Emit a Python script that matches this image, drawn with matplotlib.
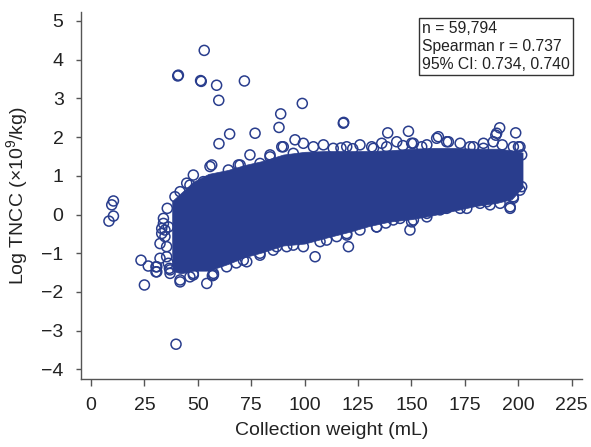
import numpy as np
import matplotlib.pyplot as plt

plt.rcParams['font.family'] = ['Liberation Sans', 'DejaVu Sans']
plt.rcParams['mathtext.fontset'] = 'custom'
plt.rcParams['mathtext.rm'] = 'Liberation Sans'
plt.rcParams['mathtext.it'] = 'Liberation Sans:italic'

NAVY = '#293d8d'

# ---------------------------------------------------------
# dense core of the cloud (outline read as lower / upper band)
# ---------------------------------------------------------
cloud_x = [38, 42, 48, 55, 64, 72, 80, 90, 100, 110, 120, 130, 140, 150, 160, 170, 180, 190, 197, 202]
cloud_upper = [0.35, 0.55, 0.85, 1.05, 1.15, 1.28, 1.38, 1.55, 1.62, 1.64, 1.64, 1.64, 1.66, 1.70, 1.72, 1.72, 1.70, 1.70, 1.66, 1.60]
cloud_lower = [-1.45, -1.52, -1.45, -1.45, -1.28, -1.10, -0.98, -0.80, -0.75, -0.60, -0.46, -0.30, -0.18, -0.12, -0.02, 0.10, 0.22, 0.30, 0.40, 0.70]

# individual donors on the upper edge of the cloud
top_x = [47.9, 55.7, 64.3, 69.8, 74.4, 83.8, 90.0, 95.5, 99.4, 104.1, 108.8, 113.4, 119.7, 125.9,
         132.2, 138.4, 143.1, 150.9, 157.2, 161.8, 166.5, 172.8, 179.0, 183.7, 188.3, 197.7, 200.8,
         41.7, 39.3, 46.3, 44.8, 52.6, 56.5, 69.0, 79.1, 83.8, 89.3, 94.7,
         131.4, 136.1, 150.1, 154.8, 162.6, 167.3, 177.4, 183.7, 200.1, 201.6, 192.5, 146.0, 117.0, 122.5]
top_y = [1.02, 1.24, 1.15, 1.28, 1.54, 1.49, 1.75, 1.93, 1.84, 1.75, 1.80, 1.71, 1.75, 1.80,
         1.71, 1.75, 1.88, 1.84, 1.80, 1.97, 1.88, 1.84, 1.75, 1.84, 1.88, 1.75, 1.75,
         0.59, 0.46, 0.76, 0.81, 0.85, 1.28, 1.28, 1.32, 1.54, 1.75, 1.58,
         1.75, 1.84, 1.84, 1.75, 2.01, 1.88, 1.75, 1.71, 1.75, 1.54, 1.80, 1.78, 1.72, 1.70]

# individual donors on the lower edge of the cloud
low_x = [41.7, 47.9, 54.2, 57.3, 63.5, 72.9, 79.1, 86.9, 94.7, 99.4, 104.9, 110.3, 119.7, 120.5,
         125.9, 133.7, 141.5, 149.3, 150.9, 157.2, 166.5, 175.9, 185.3, 191.5, 196.2, 197.7, 201.6,
         37.0, 41.7, 47.9, 57.3, 71.3, 79.1, 85.3, 91.6, 107.2, 115.0, 119.7,
         127.5, 133.7, 144.7, 150.1, 157.2, 163.4, 172.8, 182.1, 186.8, 196.2, 197.7, 200.8, 68.0, 138.0]
low_y = [-1.74, -1.56, -1.78, -1.56, -1.35, -1.22, -1.00, -0.83, -0.79, -0.83, -1.09, -0.66, -0.53, -0.83,
         -0.40, -0.32, -0.14, -0.40, -0.14, -0.06, 0.16, 0.16, 0.33, 0.29, 0.16, 0.46, 0.72,
         -1.52, -1.69, -1.52, -1.52, -1.18, -1.05, -0.92, -0.83, -0.70, -0.57, -0.49,
         -0.19, -0.32, -0.10, -0.19, 0.03, 0.12, 0.16, 0.29, 0.25, 0.20, 0.42, 0.63, -1.25, -0.22]

# individual donors on the left edge of the cloud
left_x = [33.9, 33.1, 32.3, 34.6, 35.4, 36.7, 32.3, 30.8, 30.4, 36.2, 35.7, 46.3, 56.8, 37.0, 33.9,
          33.1, 34.6, 35.4, 36.2]
left_y = [-0.10, -0.36, -0.75, -0.57, -1.09, -1.39, -1.13, -1.35, -1.48, -0.32, 0.16, -1.61, -1.58,
          -1.43, -0.23, -0.49, -0.40, -0.83, -1.26]

# isolated outliers
out_x = [53.0, 40.6, 40.9, 51.3, 51.6, 58.8, 71.8, 59.8, 98.9, 88.8, 88.0, 64.9, 76.8, 118.1, 118.3,
         59.9, 138.9, 148.6, 191.3, 198.8, 189.5, 189.9,
         10.5, 9.7, 10.5, 8.4, 23.4, 25.0, 26.8, 30.4, 30.8, 39.8]
out_y = [4.24, 3.58, 3.60, 3.46, 3.44, 3.34, 3.45, 2.95, 2.87, 2.60, 2.25, 2.08, 2.10, 2.36, 2.38,
         1.83, 2.11, 2.15, 2.24, 2.11, 2.05, 2.10,
         0.35, 0.25, -0.04, -0.17, -1.18, -1.82, -1.33, -1.35, -1.48, -3.35]

x_ticks = [0, 25, 50, 75, 100, 125, 150, 175, 200, 225]
y_ticks = [-4, -3, -2, -1, 0, 1, 2, 3, 4, 5]
y_tick_labels = ['\u22124', '\u22123', '\u22122', '\u22121', '0', '1', '2', '3', '4', '5']

stats_lines = ['n = 59,794', 'Spearman r = 0.737', '95% CI: 0.734, 0.740']

fig = plt.figure(figsize=(5.91, 4.47), dpi=100)
ax = fig.add_axes([0.137, 0.152, 0.848, 0.821])

ax.fill_between(cloud_x, cloud_lower, cloud_upper, color=NAVY, lw=0.5, zorder=2)
for xs, ys in [(top_x, top_y), (low_x, low_y), (left_x, left_y), (out_x, out_y)]:
    ax.scatter(xs, ys, s=52, facecolors='none', edgecolors=NAVY, linewidths=1.1, zorder=3)

ax.set_xlim(-4.7, 229.9)
ax.set_ylim(-4.25, 5.23)
ax.set_xticks(x_ticks)
ax.set_yticks(y_ticks)
ax.set_yticklabels(y_tick_labels)

for side in ['top', 'right']:
    ax.spines[side].set_visible(False)
for side in ['left', 'bottom']:
    ax.spines[side].set_color('#555555')
    ax.spines[side].set_linewidth(1.0)

ax.tick_params(axis='x', length=5, width=1, color='#555555', pad=8, labelsize=14, labelcolor='#222222')
ax.tick_params(axis='y', length=3.5, width=1, color='#555555', pad=9, labelsize=14, labelcolor='#222222')

ax.set_xlabel('Collection weight (mL)', fontsize=14, color='#222222', labelpad=6)
ax.set_ylabel(r'Log TNCC ($\times$10$^9$/kg)', fontsize=14, color='#222222', labelpad=8)

ax.text(0.681, 0.975, '\n'.join(stats_lines), transform=ax.transAxes, ha='left', va='top',
        fontsize=11.3, color='#222222', linespacing=1.25,
        bbox=dict(boxstyle='square,pad=0.2', facecolor='white', edgecolor='#333333', linewidth=1.0))

fig.savefig('out.png', dpi=100)
